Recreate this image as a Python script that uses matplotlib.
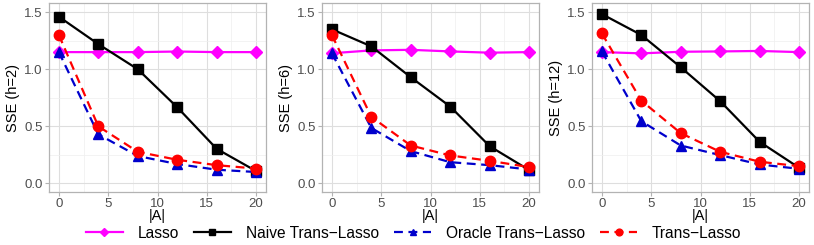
import numpy as np
import matplotlib
matplotlib.use("Agg")
import matplotlib.pyplot as plt
from matplotlib.ticker import MultipleLocator

plt.rcParams['font.family'] = ['Liberation Sans', 'DejaVu Sans']

a_sizes = [0, 4, 8, 12, 16, 20]
panel_labels = ['SSE (h=2)', 'SSE (h=6)', 'SSE (h=12)']

lasso = [
    [1.15, 1.15, 1.15, 1.155, 1.15, 1.15],
    [1.14, 1.165, 1.17, 1.156, 1.145, 1.15],
    [1.15, 1.139, 1.153, 1.156, 1.16, 1.15],
]
naive = [
    [1.46, 1.22, 1.00, 0.667, 0.303, 0.108],
    [1.35, 1.20, 0.93, 0.673, 0.326, 0.117],
    [1.483, 1.30, 1.017, 0.72, 0.364, 0.137],
]
oracle = [
    [1.15, 0.43, 0.24, 0.17, 0.12, 0.10],
    [1.14, 0.486, 0.283, 0.186, 0.16, 0.122],
    [1.156, 0.545, 0.332, 0.248, 0.166, 0.128],
]
trans = [
    [1.30, 0.50, 0.277, 0.207, 0.16, 0.13],
    [1.30, 0.583, 0.332, 0.245, 0.198, 0.143],
    [1.314, 0.725, 0.44, 0.277, 0.19, 0.151],
]

series = [
    ('Lasso', lasso, '#FF00FF', 'D', '-', 6),
    ('Naive Trans\u2212Lasso', naive, 'black', 's', '-', 7),
    ('Oracle Trans\u2212Lasso', oracle, '#0000CC', '^', '--', 7.5),
    ('Trans\u2212Lasso', trans, '#FF0000', 'o', '--', 7.5),
]

W, H = 814, 245
fig = plt.figure(figsize=(W / 100, H / 100), dpi=100)

lefts = [49, 322, 592]
for p in range(3):
    ax = fig.add_axes([lefts[p] / W, (H - 192) / H, 217 / W, 189 / H])
    ax.set_xlim(-1, 21)
    ax.set_ylim(-0.075, 1.58)
    ax.xaxis.set_major_locator(MultipleLocator(5))
    ax.xaxis.set_minor_locator(MultipleLocator(2.5))
    ax.yaxis.set_major_locator(MultipleLocator(0.5))
    ax.yaxis.set_minor_locator(MultipleLocator(0.25))
    ax.grid(which='major', color='#DEDEDE', linewidth=0.8)
    ax.grid(which='minor', color='#EFEFEF', linewidth=0.5)
    ax.set_axisbelow(True)
    for sp in ax.spines.values():
        sp.set_color('#B3B3B3')
        sp.set_linewidth(0.9)
    ax.tick_params(which='major', colors='#B3B3B3', labelcolor='#4D4D4D',
                   labelsize=9.5, length=3, width=0.8, pad=1.5)
    ax.tick_params(which='minor', length=0)
    ax.set_yticks([0, 0.5, 1.0, 1.5])
    ax.set_yticklabels(['0.0', '0.5', '1.0', '1.5'])
    for name, data, col, mk, ls, ms in series:
        ax.plot(a_sizes, data[p], color=col, marker=mk, linestyle=ls,
                linewidth=1.6, markersize=ms, label=name,
                dashes=(4, 2.5) if ls == '--' else (None, None))
    ax.set_xlabel('|A|', fontsize=10.5, labelpad=-1)
    ax.set_ylabel(panel_labels[p], fontsize=10.5, labelpad=3)
    if p == 0:
        handles, labels = ax.get_legend_handles_labels()

fig.legend(handles, labels, loc='center', bbox_to_anchor=(0.508, (H - 233) / H),
           ncol=4, frameon=False, fontsize=11.2, handlelength=2.4,
           markerscale=0.65, columnspacing=0.95, handletextpad=0.95,
           borderaxespad=0)

fig.savefig('out.png', dpi=100)
